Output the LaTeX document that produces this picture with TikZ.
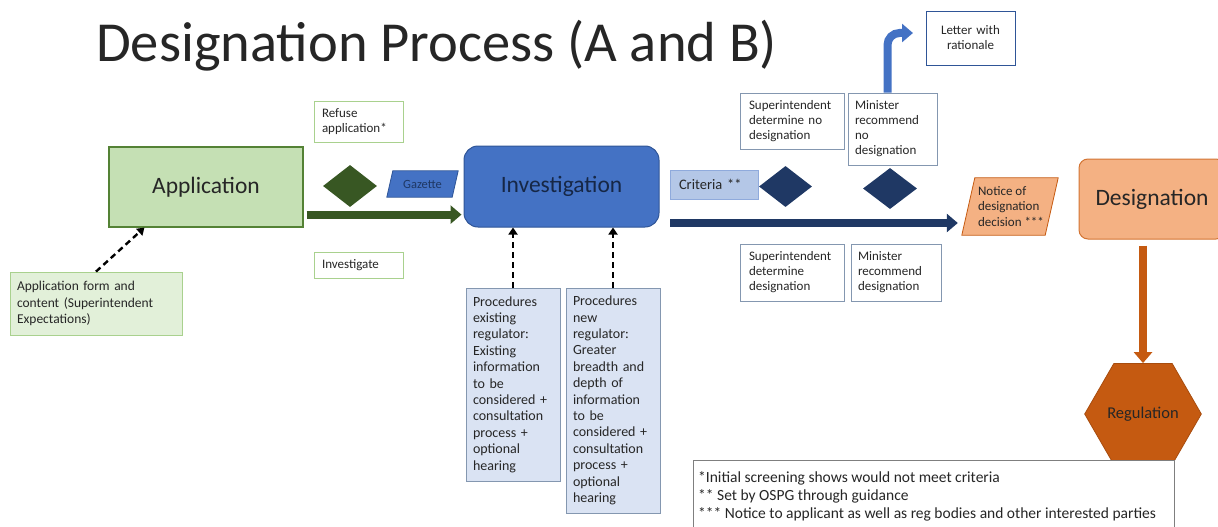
\documentclass[tikz,border=0pt]{standalone}
\usepackage{fontspec}
\setmainfont{Carlito}
\usetikzlibrary{shapes.geometric,arrows.meta,calc}
\definecolor{txt}{HTML}{262626}
\definecolor{appfill}{HTML}{C5E0B4}
\definecolor{appline}{HTML}{548235}
\definecolor{formfill}{HTML}{E2F0D9}
\definecolor{lgreen}{HTML}{A9D18E}
\definecolor{dgreen}{HTML}{385723}
\definecolor{blue1}{HTML}{4472C4}
\definecolor{blue2}{HTML}{2F5597}
\definecolor{procfill}{HTML}{DAE3F3}
\definecolor{procline}{HTML}{8497B0}
\definecolor{critfill}{HTML}{B4C7E7}
\definecolor{critline}{HTML}{8FAADC}
\definecolor{navy}{HTML}{1F3864}
\definecolor{peach}{HTML}{F4B183}
\definecolor{rust}{HTML}{C55A11}
\definecolor{footline}{HTML}{7F7F7F}
\tikzset{
  every node/.style={text=txt},
  plainbox/.style={draw, line width=0.8pt, inner sep=0pt, align=left, fill=white,
    font=\fontsize{13}{15}\selectfont},
  procbox/.style={draw=procline, fill=procfill, line width=0.8pt, inner sep=0pt, align=left,
    font=\fontsize{14}{16.4}\selectfont},
  bigtitle/.style={font=\fontsize{23.5}{28}\selectfont},
  gem/.style={diamond, inner sep=0pt, draw=none},
  fatarrow/.style={line width=8pt, -{Triangle[length=11pt,width=18pt]}},
  dasharrow/.style={line width=2.4pt, dash pattern=on 6pt off 4pt, -{Triangle[length=7pt,width=9pt]}},
}
\begin{document}
\begin{tikzpicture}[x=1pt,y=-1pt]
\useasboundingbox (0,0) rectangle (1218,527);

% title
\node[anchor=base west, inner sep=0pt, font=\fontsize{56.5}{66}\selectfont, text=black!85] (title) at (96,62) {Designation Process (A and B)};

% application side
\node[draw=appline, fill=appfill, line width=1.2pt, minimum width=194pt, minimum height=80pt, bigtitle] (app) at (206,187) {Application};
\node[draw=lgreen, fill=formfill, line width=0.8pt, minimum width=172pt, minimum height=63pt, inner sep=0pt, align=left, text width=158pt, font=\fontsize{13.5}{16.5}\selectfont] (form) at (96,303.5) {Application form and\\content (Superintendent\\Expectations)};
\node[plainbox, draw=lgreen, minimum width=89pt, minimum height=41pt, text width=73pt] (refuse) at (358.5,121.5) {Refuse\\application*};
\node[plainbox, draw=lgreen, minimum width=89pt, minimum height=26pt, text width=73pt] (investigate) at (358.5,265) {Investigate};
\node[gem, fill=dgreen, minimum width=54pt, minimum height=42pt] (gd) at (350,186) {};
\node[minimum width=71pt, minimum height=26pt, inner sep=0pt] (gazette) at (422.5,184) {};
\draw[draw=blue2, fill=blue1, line width=0.8pt] (gazette.south west) -- ([xshift=6pt]gazette.north west) -- (gazette.north east) -- ([xshift=-6pt]gazette.south east) -- cycle;
\node[font=\fontsize{12.5}{14}\selectfont, text=navy] at (gazette.center) {Gazette};

% investigation
\node[draw=blue2, fill=blue1, line width=1pt, rounded corners=14pt, minimum width=195pt, minimum height=81pt, bigtitle, text=navy!70!black] (inv) at (561.5,186.5) {Investigation};
\node[procbox, minimum width=94pt, minimum height=193pt, text width=80pt] (proc1) at (513,384.5) {Procedures\\existing\\regulator:\\Existing\\information\\to be\\considered +\\consultation\\process +\\optional\\hearing};
\node[procbox, minimum width=94pt, minimum height=225pt, text width=80pt] (proc2) at (613,400.5) {Procedures\\new\\regulator:\\Greater\\breadth and\\depth of\\information\\to be\\considered +\\consultation\\process +\\optional\\hearing};

% decision area
\node[draw=critline, fill=critfill, line width=0.8pt, minimum width=88pt, minimum height=29pt, inner sep=0pt, align=left, text width=70pt, font=\fontsize{14.5}{16}\selectfont] (crit) at (714,184.5) {Criteria **};
\node[gem, fill=navy, minimum width=53pt, minimum height=41pt] (nd1) at (785.5,186.5) {};
\node[gem, fill=navy, minimum width=54pt, minimum height=41pt] (nd2) at (890,188.5) {};
\node[plainbox, draw=procline, minimum width=104pt, minimum height=56pt, text width=86pt] (sdno) at (792,121) {Superintendent\\determine no\\designation};
\node[plainbox, draw=procline, minimum width=89pt, minimum height=72pt, text width=75pt] (mrno) at (892.5,129) {Minister\\recommend\\no\\designation};
\node[plainbox, draw=procline, minimum width=104pt, minimum height=57pt, text width=86pt] (sdyes) at (792,272.5) {Superintendent\\determine\\designation};
\node[plainbox, draw=procline, minimum width=90pt, minimum height=57pt, text width=76pt] (mryes) at (896,272.5) {Minister\\recommend\\designation};
\node[plainbox, draw=blue2, minimum width=89pt, minimum height=54pt, align=center, text width=80pt] (letter) at (970.5,38) {Letter with\\rationale};

\node[minimum width=96pt, minimum height=57pt, inner sep=0pt] (notice) at (1010,206.5) {};
\draw[draw=rust, fill=peach, line width=0.8pt] (notice.south west) -- ([xshift=13pt]notice.north west) -- (notice.north east) -- ([xshift=-13pt]notice.south east) -- cycle;
\node[align=left, font=\fontsize{13}{15.5}\selectfont] at ([xshift=1pt]notice.center) {Notice of\\designation\\decision ***};

% designation
\node[draw=rust!70!peach, fill=peach, line width=1pt, rounded corners=9pt, minimum width=146pt, minimum height=80pt, bigtitle] (desig) at (1152,199) {Designation};
\node[regular polygon, regular polygon sides=6, minimum size=108pt, inner sep=0pt, fill=rust, draw=rust!85!black, line width=0.8pt, font=\fontsize{16.5}{18}\selectfont] (reg) at (1143,414) {Regulation};

% footnotes
\node[draw=footline, fill=white, line width=0.8pt, anchor=north west, minimum width=481pt, minimum height=80pt, inner sep=0pt] (foot) at (693,460) {};
\node[anchor=north west, align=left, inner sep=0pt, font=\fontsize{15.5}{18}\selectfont] (foottext) at ([xshift=5pt,yshift=-11pt]foot.north west) {*Initial screening shows would not meet criteria\\** Set by OSPG through guidance\\*** Notice to applicant as well as reg bodies and other interested parties};

% connectors
\draw[dasharrow] (form.north) -- ([xshift=36pt]app.south west);
\draw[fatarrow, dgreen] ([xshift=3pt,yshift=13pt]app.south east) -- ([xshift=-2pt,yshift=13pt]app.south east -| inv.west);
\draw[dasharrow] (proc1.north) -- (proc1.north |- inv.south);
\draw[dasharrow] (proc2.north) -- (proc2.north |- inv.south);
\coordinate (nstart) at (670,223);
\draw[fatarrow, navy] (nstart) -- ([xshift=-4pt]notice.west |- nstart);
\coordinate (ltip) at (913,33);
\draw[fatarrow, blue1, rounded corners=12pt] ([xshift=-5pt]mrno.north) -- ([xshift=-5pt]mrno.north |- ltip) -- (ltip);
\draw[fatarrow, rust] ([yshift=-6pt]reg.north |- desig.south) -- (reg.north);
\end{tikzpicture}
\end{document}
